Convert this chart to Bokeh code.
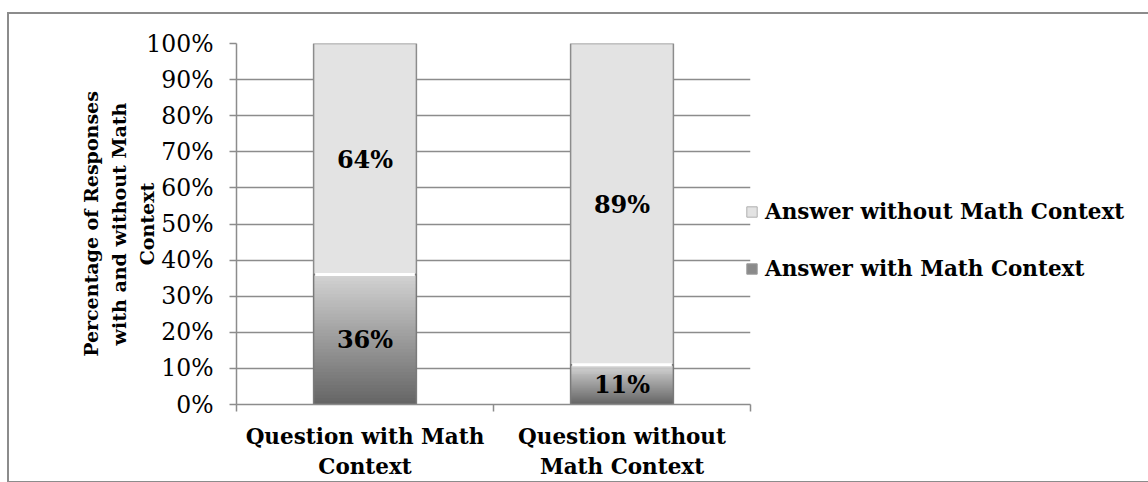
import math
from bokeh.plotting import figure
from bokeh.models import (FixedTicker, NumeralTickFormatter, Legend, LegendItem,
                          ColumnDataSource, Range1d, LinearAxis)
from bokeh.core.properties import value
from bokeh.embed import file_html
from bokeh.resources import INLINE

# ---- data ----
categories = ["Question with Math\nContext", "Question without\nMath Context"]
with_math = [0.36, 0.11]
without_math = [0.64, 0.89]
series_names = ["Answer with Math Context", "Answer without Math Context"]
y_ticks = [0.0, 0.1, 0.2, 0.3, 0.4, 0.5, 0.6, 0.7, 0.8, 0.9, 1.0]
y_title_lines = ["Percentage of Responses", "with and without Math", "Context"]

FONT = "DejaVu Serif"
GRID = "#8c8c8c"
BAR_W = 0.4
TITLE_SIZE = "19px"

xs = [i + 0.5 for i in range(len(categories))]

p = figure(frame_width=514, frame_height=361, output_backend="svg", toolbar_location=None,
           x_range=Range1d(0, len(categories)), y_range=Range1d(0, 1),
           min_border_left=227, min_border_right=396, min_border_top=29,
           min_border_bottom=74, outline_line_color=None,
           styles={"border": "2px solid #8c8c8c"}, margin=(12, 0, 0, 7))

# y axis
p.yaxis.ticker = FixedTicker(ticks=y_ticks)
p.yaxis.formatter = NumeralTickFormatter(format="0%")
p.yaxis.major_label_text_font = FONT
p.yaxis.major_label_text_font_size = "23.5px"
p.yaxis.major_label_text_color = "black"
p.yaxis.major_tick_out = 7
p.yaxis.major_tick_in = 0
p.yaxis.minor_tick_line_color = None
p.yaxis.major_tick_line_color = GRID
p.yaxis.major_tick_line_width = 1.5
p.yaxis.axis_line_color = GRID
p.yaxis.axis_line_width = 1.5
p.yaxis.major_label_standoff = 16
p.yaxis.axis_label = y_title_lines[-1]
p.yaxis.axis_label_text_font = FONT
p.yaxis.axis_label_text_font_style = "bold"
p.yaxis.axis_label_text_font_size = TITLE_SIZE
p.yaxis.axis_label_text_color = "black"
p.yaxis.axis_label_standoff = -15

# further title lines, each on its own label-only axis (centred like the reference)
for line, standoff in zip(reversed(y_title_lines[:-1]), [4, 3]):
    ax = LinearAxis(ticker=FixedTicker(ticks=[]), axis_line_color=None,
                    major_tick_line_color=None, minor_tick_line_color=None,
                    axis_label=line, axis_label_text_font=FONT,
                    axis_label_text_font_style="bold", axis_label_text_font_size=TITLE_SIZE,
                    axis_label_text_color="black", axis_label_standoff=standoff)
    p.add_layout(ax, "left")

# x axis
p.xaxis.ticker = FixedTicker(ticks=xs, minor_ticks=list(range(len(categories) + 1)))
p.xaxis.major_label_overrides = {x: c for x, c in zip(xs, categories)}
p.xaxis.major_label_text_font = FONT
p.xaxis.major_label_text_font_style = "bold"
p.xaxis.major_label_text_font_size = "21.5px"
p.xaxis.major_label_text_color = "black"
p.xaxis.major_tick_line_color = None
p.xaxis.minor_tick_out = 7
p.xaxis.minor_tick_in = 0
p.xaxis.minor_tick_line_color = GRID
p.xaxis.minor_tick_line_width = 1.5
p.xaxis.axis_line_color = GRID
p.xaxis.axis_line_width = 1.5
p.xaxis.major_label_standoff = 12

p.xgrid.grid_line_color = None
p.ygrid.grid_line_color = GRID
p.ygrid.grid_line_width = 1.5

# bottom segments with vertical gradient (dark at bottom, light at top)
N = 40
dark = (0x66, 0x66, 0x66)
light = (0xd2, 0xd2, 0xd2)
gx, gb, gt, gc = [], [], [], []
for x, v in zip(xs, with_math):
    for k in range(N):
        t = k / (N - 1)
        c = tuple(int(dark[j] + (light[j] - dark[j]) * t) for j in range(3))
        gx.append(x)
        gb.append(v * k / N)
        gt.append(v * (k + 1.6) / N if k < N - 1 else v)
        gc.append("#%02x%02x%02x" % c)
p.vbar(x=gx, bottom=gb, top=gt, width=BAR_W, fill_color=gc, line_color=None)

tops = [a + b for a, b in zip(with_math, without_math)]
src = ColumnDataSource(dict(x=xs, wm=with_math, wo=without_math, tot=tops))

# top segments
p.vbar(x="x", bottom="wm", top="tot", width=BAR_W, source=src,
       fill_color="#e3e3e3", line_color="#8c8c8c", line_width=1.5)
# outline of bottom segments
p.vbar(x="x", bottom=0, top="wm", width=BAR_W, source=src,
       fill_alpha=0, line_color="#7a7a7a", line_width=1.5)
# bevel highlight at segment boundary
p.segment(x0=[x - BAR_W / 2 + 0.006 for x in xs], x1=[x + BAR_W / 2 - 0.006 for x in xs],
          y0=with_math, y1=with_math, line_color="white", line_width=3)

# legend proxies (drawn off-range, used only for legend swatches)
leg_bot = p.quad(left=[0], right=[0.1], bottom=[-3], top=[-2],
                 fill_color="#8a8a8a", line_color="#9a9a9a")
leg_top = p.quad(left=[0], right=[0.1], bottom=[-3], top=[-2],
                 fill_color="#e3e3e3", line_color="#b0b0b0")

# data labels
lab_x = xs + xs
lab_y = [v / 2 for v in with_math] + [a + b / 2 for a, b in zip(with_math, without_math)]
lab_t = ["%d%%" % round(v * 100) for v in with_math] + ["%d%%" % round(v * 100) for v in without_math]
p.text(x=lab_x, y=lab_y, text=lab_t, text_font=value(FONT), text_font_style="bold",
       text_font_size="24px", text_align="center", text_baseline="middle", text_color="black")

legend = Legend(items=[LegendItem(label=series_names[1], renderers=[leg_top]),
                       LegendItem(label=series_names[0], renderers=[leg_bot])],
                location=(-5, 123), orientation="vertical", padding=0, margin=0,
                spacing=32, glyph_width=13, glyph_height=13, label_height=24,
                label_standoff=7, border_line_color=None, background_fill_alpha=0,
                label_text_font=FONT, label_text_font_style="bold",
                label_text_font_size="21.5px", label_text_color="black",
                label_text_baseline="middle")
p.add_layout(legend, "right")

open("out.html", "w").write(file_html(p, INLINE))
